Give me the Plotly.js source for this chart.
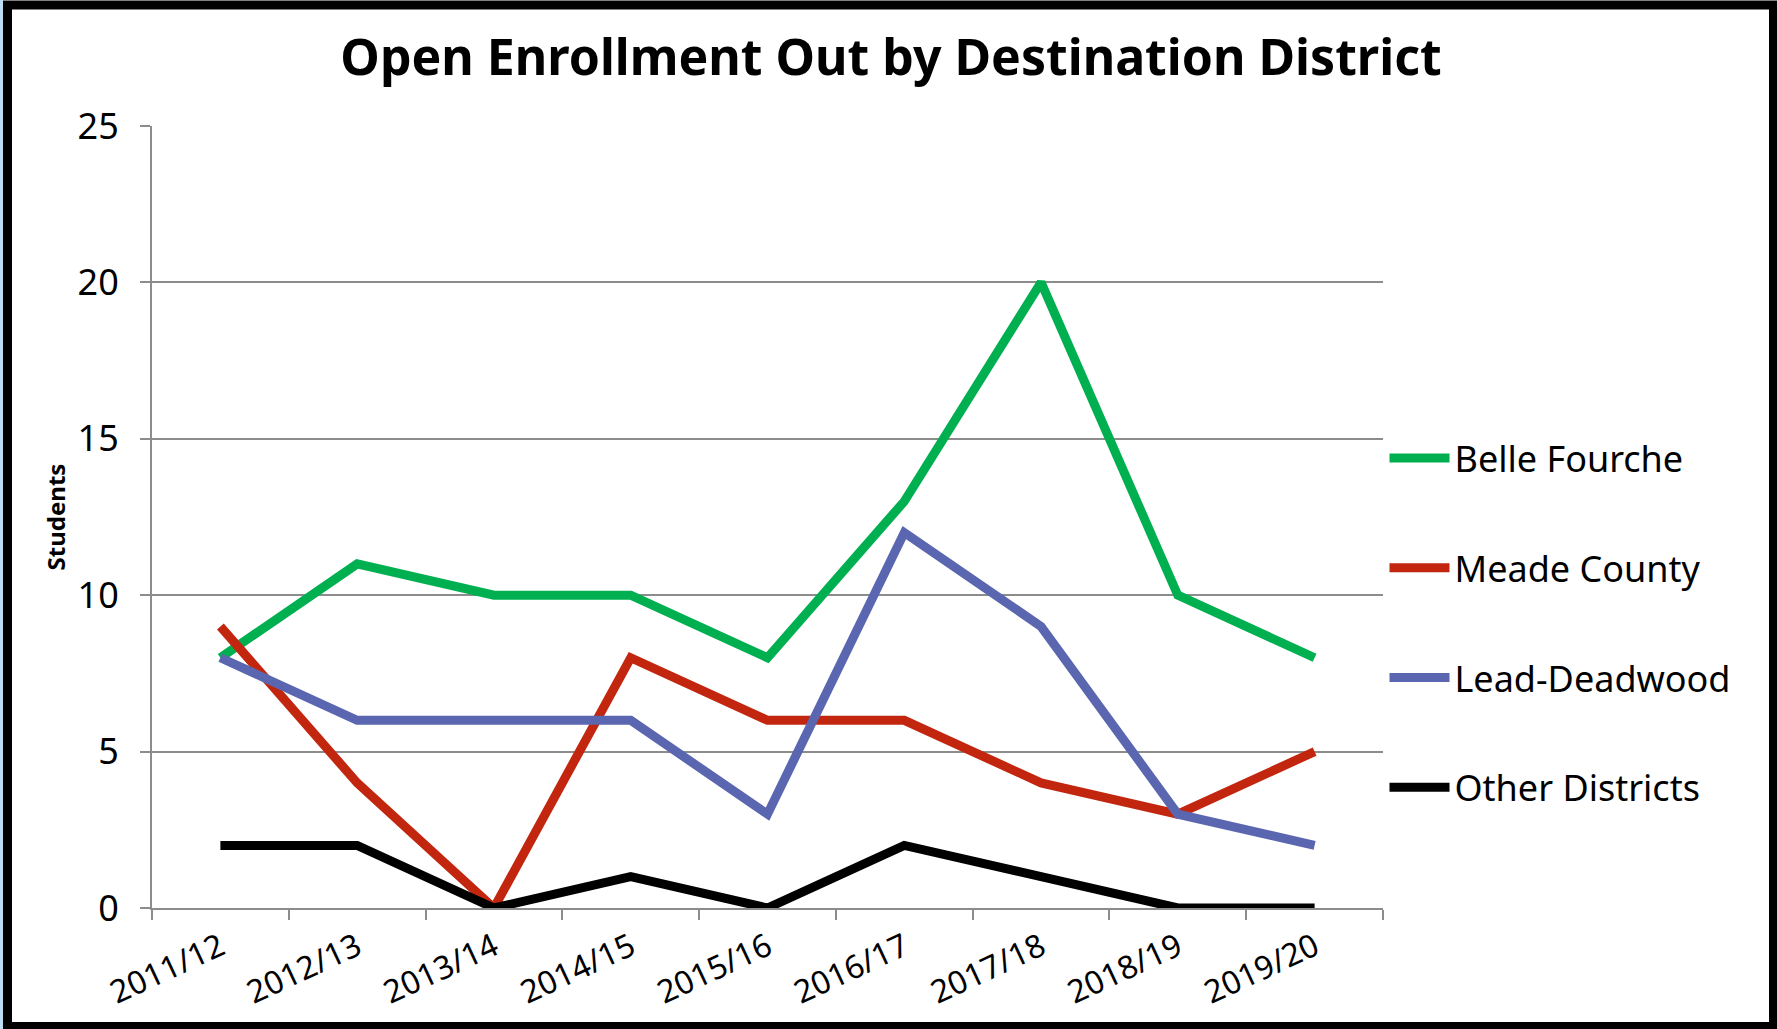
<!DOCTYPE html>
<html>
<head>
<meta charset="utf-8">
<script src="https://cdn.plot.ly/plotly-3.0.1.min.js"></script>
<style>
  html, body { margin: 0; padding: 0; background: #ffffff; }
  #chart { width: 1777px; height: 1029px; }
</style>
</head>
<body>
<div id="chart"></div>
<script>
// ---- data ----
const seasons = ["2011/12", "2012/13", "2013/14", "2014/15", "2015/16", "2016/17", "2017/18", "2018/19", "2019/20"];
const belleFourche = [8, 11, 10, 10, 8, 13, 20, 10, 8];
const meadeCounty = [9, 4, 0, 8, 6, 6, 4, 3, 5];
const leadDeadwood = [8, 6, 6, 6, 3, 12, 9, 3, 2];
const otherDistricts = [2, 2, 0, 1, 0, 2, 1, 0, 0];
const seriesNames = ["Belle Fourche", "Meade County", "Lead-Deadwood", "Other Districts"];
const chartTitle = "Open Enrollment Out by Destination District";
const yTitle = "Students";

// ---- styling / geometry ----
const W = 1777, H = 1029;
const L = 152, R = 1383, T = 126, B = 908;
const colors = ["#00B050", "#C3260F", "#5A67B0", "#000000"];
const font = "Noto Sans, Open Sans, DejaVu Sans, sans-serif";
const px2x = p => (p - L) / (R - L);
const px2y = p => (B - p) / (B - T);

const seriesData = [belleFourche, meadeCounty, leadDeadwood, otherDistricts];
const traces = seriesData.map((vals, i) => ({
  type: "scatter",
  mode: "lines",
  x: seasons,
  y: vals,
  name: seriesNames[i],
  legendgroup: "g" + i,
  line: { color: colors[i], width: 9 },
  hoverinfo: "x+y+name"
}));

const layout = {
  width: W,
  height: H,
  margin: { l: L, r: W - R, t: T, b: H - B, pad: 0 },
  paper_bgcolor: "#ffffff",
  plot_bgcolor: "#ffffff",
  font: { family: font, color: "#000000" },
  title: {
    text: "<b>" + chartTitle + "</b>",
    font: { family: font, size: 50, color: "#000000" },
    xref: "container", x: 891 / W, xanchor: "center",
    yref: "container", y: 1 - 57 / H, yanchor: "middle"
  },
  xaxis: {
    type: "category",
    range: [-0.5, seasons.length - 0.5],
    showgrid: false,
    zeroline: false,
    showline: true,
    linecolor: "#8C8C8C",
    linewidth: 2,
    ticks: "outside",
    tickson: "boundaries",
    ticklen: 10,
    tickwidth: 2,
    tickcolor: "#8C8C8C",
    tickangle: -25,
    ticklabelstandoff: 6,
    tickfont: { family: font, size: 32, color: "#000000" },
    fixedrange: true
  },
  yaxis: {
    range: [0, 25],
    dtick: 5,
    tick0: 0,
    showgrid: true,
    gridcolor: "#8C8C8C",
    gridwidth: 2,
    zeroline: false,
    showline: true,
    linecolor: "#8C8C8C",
    linewidth: 2,
    ticks: "outside",
    ticklen: 10,
    tickwidth: 2,
    tickcolor: "#8C8C8C",
    ticklabelstandoff: 14,
    tickfont: { family: font, size: 36, color: "#000000" },
    title: {
      text: "<b>" + yTitle + "</b>",
      font: { family: font, size: 24, color: "#000000" },
      standoff: 5
    },
    automargin: false,
    fixedrange: true
  },
  showlegend: true,
  legend: {
    x: px2x(1384.5),
    xanchor: "left",
    y: px2y(428),
    yanchor: "top",
    traceorder: "grouped",
    tracegroupgap: 60,
    itemwidth: 60,
    font: { family: font, size: 36, color: "#000000" },
    bgcolor: "rgba(0,0,0,0)",
    borderwidth: 0
  },
  shapes: [
    {
      type: "rect", layer: "above",
      xref: "paper", yref: "paper",
      x0: px2x(0), x1: px2x(3), y0: px2y(H + 5), y1: px2y(-5),
      fillcolor: "#BDDDF5", line: { width: 0 }
    },
    {
      type: "rect", layer: "above",
      xref: "paper", yref: "paper",
      x0: px2x(7.5), x1: px2x(1773.5), y0: px2y(1026.5), y1: px2y(5),
      fillcolor: "rgba(0,0,0,0)", line: { color: "#000000", width: 9 }
    }
  ]
};

Plotly.newPlot("chart", traces, layout, { displayModeBar: false, responsive: false });
</script>
</body>
</html>
